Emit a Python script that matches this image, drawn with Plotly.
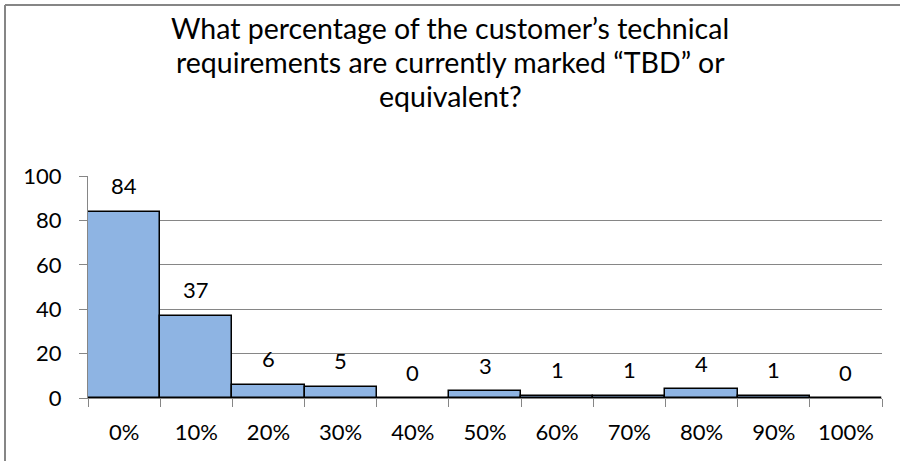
import plotly.graph_objects as go

# answer buckets and number of responses
categories = ["0%", "10%", "20%", "30%", "40%", "50%", "60%", "70%", "80%", "90%", "100%"]
counts = [84, 37, 6, 5, 0, 3, 1, 1, 4, 1, 0]
title_lines = [
    "What percentage of the customer\u2019s technical",
    "requirements are currently marked \u201cTBD\u201d or",
    "equivalent?",
]
y_ticks = [0, 20, 40, 60, 80, 100]

FONT = "Lato"
GRID = "#868686"

fig = go.Figure()
fig.add_trace(go.Bar(
    x=categories,
    y=counts,
    marker=dict(color="#8EB4E3", line=dict(color="black", width=1.5)),
    hoverinfo="x+y",
))

# data labels sit above each bar (Excel "outside end")
for c, v in zip(categories, counts):
    fig.add_annotation(x=c, y=v, text=str(v), showarrow=False,
                       yanchor="middle", yshift=26,
                       font=dict(family=FONT, size=22, color="black"))

# title, one annotation per line to get Excel's loose line spacing
# (centred on the whole chart, not on the plot area)
title_x = (450 - 88) / 794
for i, line in enumerate(title_lines):
    fig.add_annotation(x=title_x, xref="paper", xanchor="center",
                       y=1.0 + (148 - 34 * i) / 222, yref="paper", yanchor="middle",
                       text=line, showarrow=False,
                       font=dict(family=FONT, size=28.5, color="black"))

# chart-area frame: only the top and left edges are inside the picture
fig.add_shape(type="line", xref="paper", yref="paper",
              x0=-83 / 794, x1=1.2, y0=393 / 222, y1=393 / 222,
              line=dict(color=GRID, width=2))
fig.add_shape(type="line", xref="paper", yref="paper",
              x0=-83 / 794, x1=-83 / 794, y0=-0.6, y1=393 / 222,
              line=dict(color=GRID, width=2))

fig.update_layout(
    width=900, height=461,
    margin=dict(l=88, r=18, t=176, b=63),
    paper_bgcolor="white", plot_bgcolor="white",
    bargap=0,
    showlegend=False,
    font=dict(family=FONT, size=22, color="black"),
)
fig.update_xaxes(
    type="category",
    showline=True, linecolor=GRID, linewidth=1,
    ticks="outside", tickson="boundaries", ticklen=8, tickcolor=GRID,
    showgrid=False,
    tickfont=dict(family=FONT, size=22),
    ticklabelstandoff=15,
)
fig.update_yaxes(
    range=[0, 100], tickvals=y_ticks,
    showline=True, linecolor=GRID, linewidth=1,
    ticks="outside", ticklen=8, tickcolor=GRID,
    showgrid=True, gridcolor=GRID, gridwidth=1,
    zeroline=False,
    tickfont=dict(family=FONT, size=22),
    ticklabelstandoff=13,
)

fig.write_html("out.html", config={"displayModeBar": False},
               post_script="document.body.style.margin='0';document.body.style.overflow='hidden';")
